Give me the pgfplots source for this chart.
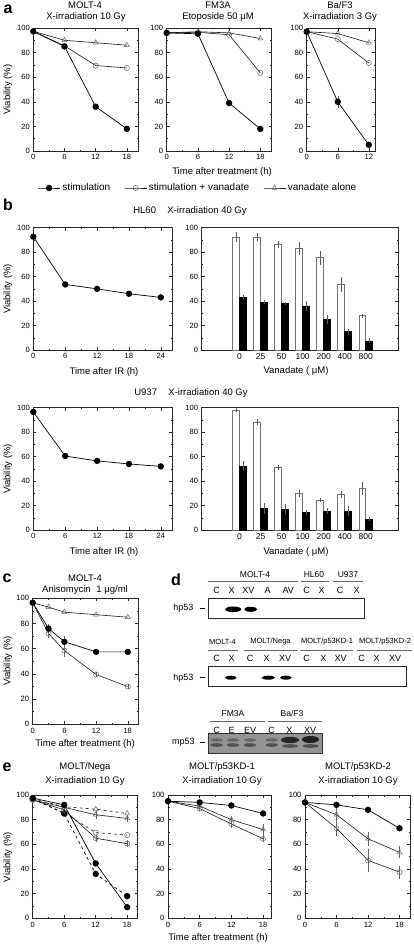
\documentclass[border=0pt]{standalone}
\usepackage{fontspec}
\setmainfont{Liberation Sans}
\usepackage{pgfplots}
\pgfplotsset{compat=1.18}
\newcommand{\tf}{\fontsize{7.6}{8.5}\selectfont}
\newcommand{\lf}{\fontsize{9.5}{11}\selectfont}
\newcommand{\hf}{\fontsize{8.5}{10}\selectfont}
\newcommand{\hsf}{\fontsize{7.5}{9}\selectfont}
\newcommand{\nf}{\fontsize{9}{10.5}\selectfont}
\pgfplotsset{
 base/.style={scale only axis, clip=false, anchor=south west,
   ymin=0, ymax=100, ytick={0,20,40,60,80,100}, minor y tick num=1,
   tick align=inside, major tick length=3pt, minor tick length=1.5pt,
   axis line style={black!85, line width=0.6pt},
   tick style={black!85, line width=0.45pt},
   ticklabel style={font=\tf},
   /pgf/number format/assume math mode=true},
 linep/.style={base, minor x tick num=1, xtick={0,6,12,18}},
 barp/.style={base, xmin=-1.8, xmax=7.55, xtick={0,1,2,3,4,5,6},
   xticklabels={0,25,50,100,200,400,800}, xtick style={draw=none},
   xticklabel style={font=\fontsize{8.5}{10}\selectfont}},
 fil/.style={black, line width=0.7pt, mark=*, mark size=2.8pt, mark options={solid, fill=black}},
 opn/.style={black!90, line width=0.6pt, mark=o, mark size=2.6pt, mark options={solid, draw=black!60, line width=0.5pt}},
 tri/.style={black!90, line width=0.6pt, mark=triangle, mark size=2.9pt, mark options={solid, draw=black!60, line width=0.5pt}},
 eb/.style={error bars/.cd, y dir=both, y explicit, error bar style={draw=black!60, line width=0.4pt, solid}, error mark options={draw=black!60, mark size=1.6pt, line width=0.4pt}},
 ebar/.style={draw=none, mark=none, forget plot, error bars/.cd, y dir=both, y explicit, error bar style={draw=black!65, line width=0.45pt, solid}, error mark options={draw=black!65, mark size=1.5pt, line width=0.45pt}},
 wbar/.style={ybar, bar width=0.33, bar shift=-0.165, fill=white, draw=black!55, line width=0.5pt, mark=none},
 bbar/.style={ybar, bar width=0.33, bar shift=0.165, fill=black, draw=black, line width=0.5pt, mark=none},
}
\begin{document}
\begin{tikzpicture}
\path[use as bounding box] (0pt,0pt) rectangle (413pt,-947pt);

% ---------------- panel a ----------------
\begin{axis}[linep, at={(33.3pt,-151pt)}, width=105pt, height=123pt, xmin=0, xmax=20.2]
\addplot[opn] coordinates {(0,97.3) (6,85.5) (12,69.5) (18,67.5)};
\addplot[tri] coordinates {(0,97.3) (6,90) (12,88) (18,86)};
\addplot[fil] coordinates {(0,97.3) (6,85) (12,36) (18,18)};
\end{axis}
\begin{axis}[linep, at={(33.3pt,-151pt)}, width=105pt, height=123pt, xmin=0, xmax=20.2, hide axis,
  legend style={at={(axis description cs:1.5686,-0.3008)}, anchor=center, draw=none, fill=none,
    legend columns=3, font=\fontsize{10}{12}\selectfont,
    /tikz/every even column/.append style={column sep=12pt}},
  legend image code/.code={\draw[mark repeat=2,mark phase=2,#1] plot coordinates {(0pt,0pt)(11pt,0pt)(22pt,0pt)};}]
\addlegendimage{fil}
\addlegendentry{stimulation}
\addlegendimage{opn}
\addlegendentry{stimulation + vanadate}
\addlegendimage{tri}
\addlegendentry{vanadate alone}
\end{axis}
\begin{axis}[linep, at={(166.7pt,-151pt)}, width=105pt, height=123pt, xmin=0, xmax=20.2]
\addplot[tri] coordinates {(0,96) (6,97) (12,96) (18,91.5)};
\addplot[opn] coordinates {(0,96) (6,96.5) (12,94.5) (18,63.5)};
\addplot[fil] coordinates {(0,96) (6,95.3) (12,39) (18,18)};
\end{axis}
\begin{axis}[linep, at={(306.7pt,-151pt)}, width=68.3pt, height=123pt, xmin=0, xmax=13.2, xtick={0,6,12}]
\addplot[tri] coordinates {(0,97) (6,95.5) (12,88)};
\addplot[opn] coordinates {(0,97) (6,91) (12,71.5)};
\addplot[fil, eb] coordinates {(0,97) +- (0,0) (6,40) +- (0,3.5) (12,5) +- (0,0.5)};
\end{axis}

% ---------------- panel b ----------------
\begin{axis}[linep, at={(33.3pt,-350pt)}, width=138.7pt, height=122.3pt, xmin=0, xmax=26.1, xtick={0,6,12,18,24}]
\addplot[fil] coordinates {(0,92.7) (6,53.6) (12,50) (18,46) (24,43)};
\end{axis}
\begin{axis}[barp, at={(201.7pt,-350pt)}, width=196.6pt, height=122.3pt]
\addplot[wbar] coordinates {(0,92.6) (1,92.6) (2,86.4) (3,83.1) (4,75.5) (5,53.7) (6,28.1)};
\addplot[bbar] coordinates {(0,42.8) (1,39) (2,38.1) (3,36) (4,25.1) (5,15) (6,7.4)};
\addplot[ebar] coordinates {(-0.165,92.6) +- (0,2.7) (0.835,92.6) +- (0,2) (1.835,86.4) +- (0,1.5) (2.835,83.1) +- (0,3.8) (3.835,75.5) +- (0,4.5) (4.835,53.7) +- (0,4.8) (5.835,28.1) +- (0,0.5)};
\addplot[ebar] coordinates {(0.165,42.8) +- (0,0.8) (1.165,39) +- (0,0.3) (2.165,38.1) +- (0,0.3) (3.165,36) +- (0,3) (4.165,25.1) +- (0,2.6) (5.165,15) +- (0,1.2) (6.165,7.4) +- (0,0.8)};
\end{axis}
\begin{axis}[linep, at={(33.3pt,-530pt)}, width=138.7pt, height=122.3pt, xmin=0, xmax=26.1, xtick={0,6,12,18,24}]
\addplot[fil] coordinates {(0,96.5) (6,60.5) (12,56.5) (18,54) (24,52)};
\end{axis}
\begin{axis}[barp, at={(201.7pt,-530pt)}, width=196.6pt, height=122.3pt]
\addplot[wbar] coordinates {(0,98.1) (1,88) (2,51.2) (3,30) (4,24.5) (5,29.2) (6,34.1)};
\addplot[bbar] coordinates {(0,52.3) (1,17.7) (2,16.9) (3,14.2) (4,15.5) (5,15.5) (6,8.7)};
\addplot[ebar] coordinates {(-0.165,98.1) +- (0,0.3) (0.835,88) +- (0,1.2) (1.835,51.2) +- (0,1) (2.835,30) +- (0,1.5) (3.835,24.5) +- (0,0.3) (4.835,29.2) +- (0,1.5) (5.835,34.1) +- (0,4)};
\addplot[ebar] coordinates {(0.165,52.3) +- (0,3) (1.165,17.7) +- (0,3) (2.165,16.9) +- (0,3) (3.165,14.2) +- (0,0.8) (4.165,15.5) +- (0,1) (5.165,15.5) +- (0,3) (6.165,8.7) +- (0,0.5)};
\end{axis}

% ---------------- panel c ----------------
\begin{axis}[linep, at={(32.7pt,-724.3pt)}, width=105.6pt, height=126pt, xmin=0, xmax=20]
\addplot[tri] coordinates {(0,96.5) (3,93) (6,89) (12,87) (18,85)};
\addplot[opn, eb] coordinates {(0,96.5) +- (0,0) (3,72) +- (0,2) (6,58.5) +- (0,3.5) (12,39.5) +- (0,1) (18,30) +- (0,1)};
\addplot[fil, eb] coordinates {(0,96.5) +- (0,0) (3,76) +- (0,2) (6,65.5) +- (0,3) (12,57.5) +- (0,1) (18,57.5) +- (0,1)};
\end{axis}

% ---------------- panel e ----------------
\begin{axis}[linep, at={(32.7pt,-918.3pt)}, width=105pt, height=123.3pt, xmin=0, xmax=20]
\addplot[tri, dashed] coordinates {(0,97) (6,90.5) (12,88.5) (18,85)};
\addplot[opn, dashed] coordinates {(0,97) (6,85.5) (12,69.5) (18,67.5)};
\addplot[fil, dashed] coordinates {(0,97) (6,85) (12,36) (18,18)};
\addplot[tri, eb] coordinates {(0,96) +- (0,0) (6,90) +- (0,1) (12,84) +- (0,2) (18,81) +- (0,1.5)};
\addplot[opn, eb] coordinates {(0,96) +- (0,0) (6,88) +- (0,1) (12,65) +- (0,1.5) (18,60.5) +- (0,1.5)};
\addplot[fil] coordinates {(0,97.5) (6,92) (12,44.5) (18,9)};
\end{axis}
\begin{axis}[linep, at={(168pt,-918.3pt)}, width=103pt, height=123.3pt, xmin=0, xmax=19.5]
\addplot[tri, eb] coordinates {(0,95) +- (0,0) (6,91) +- (0,1) (12,80) +- (0,1.5) (18,72) +- (0,3.5)};
\addplot[opn, eb] coordinates {(0,95) +- (0,0) (6,89) +- (0,1) (12,76.5) +- (0,2) (18,64.5) +- (0,1.5)};
\addplot[fil] coordinates {(0,95) (6,94) (12,91.5) (18,85)};
\end{axis}
\begin{axis}[linep, at={(305pt,-918.3pt)}, width=105pt, height=123.3pt, xmin=0, xmax=20]
\addplot[tri, eb] coordinates {(0,94) +- (0,0) (6,84) +- (0,4) (12,64.5) +- (0,4.5) (18,53.5) +- (0,3.5)};
\addplot[opn, eb] coordinates {(0,94) +- (0,0) (6,73) +- (0,5) (12,47) +- (0,8) (18,37.5) +- (0,4)};
\addplot[fil] coordinates {(0,94) (6,92) (12,88) (18,73)};
\end{axis}

% ---------------- texts and blots ----------------
\begin{scope}[x=1pt, y=-1pt]
% panel letters
\node[font=\fontsize{16}{18}\selectfont\bfseries] at (8,9) {a};
\node[font=\fontsize{16}{18}\selectfont\bfseries] at (8,205) {b};
\node[font=\fontsize{16}{18}\selectfont\bfseries] at (7,578) {c};
\node[font=\fontsize{16}{18}\selectfont\bfseries] at (176,580) {d};
\node[font=\fontsize{16}{18}\selectfont\bfseries] at (7,767) {e};
% panel a
\node[font=\lf] at (85,5) {MOLT-4};
\node[font=\lf] at (86,17) {X-irradiation 10 Gy};
\node[font=\lf] at (218,5) {FM3A};
\node[font=\lf] at (218,17) {Etoposide 50 μM};
\node[font=\lf] at (340,5) {Ba/F3};
\node[font=\lf] at (340,17) {X-irradiation 3 Gy};
\node[font=\lf] at (222,172) {Time after treatment (h)};
\node[font=\lf, rotate=90] at (8,89.5) {Viability (\%)};
% panel b
\node[font=\lf] at (190,211) {HL60\hspace{1.2em}X-irradiation 40 Gy};
\node[font=\lf] at (104,372) {Time after IR (h)};
\node[font=\lf] at (296,371) {Vanadate ( μM)};
\node[font=\lf, rotate=90] at (8,289) {Viability (\%)};
\node[font=\lf] at (191,393) {U937\hspace{1.2em}X-irradiation 40 Gy};
\node[font=\lf] at (104,552) {Time after IR (h)};
\node[font=\lf] at (296,552) {Vanadate ( μM)};
\node[font=\lf, rotate=90] at (8,469) {Viability (\%)};
% panel c
\node[font=\lf] at (85,578) {MOLT-4};
\node[font=\lf] at (85,590) {Anisomycin\hspace{0.6em}1 μg/ml};
\node[font=\lf, rotate=90] at (8,661) {Viability (\%)};
\node[font=\lf] at (85,744) {Time after treatment (h)};
% panel e
\node[font=\lf] at (85,767) {MOLT/Nega};
\node[font=\lf] at (85,781) {X-irradiation 10 Gy};
\node[font=\lf] at (222,767) {MOLT/p53KD-1};
\node[font=\lf] at (222,781) {X-irradiation 10 Gy};
\node[font=\lf] at (358,767) {MOLT/p53KD-2};
\node[font=\lf] at (358,781) {X-irradiation 10 Gy};
\node[font=\lf, rotate=90] at (8,857) {Viability (\%)};
\node[font=\lf] at (218,938) {Time after treatment (h)};

% panel d, row 1
\node[font=\hf] at (255,575) {MOLT-4};
\node[font=\hf] at (314,575) {HL60};
\node[font=\hf] at (348,575) {U937};
\draw[black!60, line width=0.6pt] (208.3,581.7) -- (298.3,581.7);
\draw[black!60, line width=0.6pt] (301,581.7) -- (329.3,581.7);
\draw[black!60, line width=0.6pt] (333.3,581.7) -- (363.3,581.7);
\foreach \xx/\ll in {216.7/C, 231.7/X, 248.3/XV, 267.7/A, 288.3/AV, 306.7/C, 321.7/X, 340/C, 356.7/X}
  \node[font=\nf] at (\xx,590) {\ll};
\draw[black!85, line width=0.8pt] (208.3,598.3) rectangle (364,618.3);
\node[font=\nf] at (183.3,608.3) {hp53};
\draw[black, line width=0.5pt] (199.5,608.3) -- (205,608.3);
\fill[black] (233.3,609.3) ellipse (8 and 2.8);
\fill[black] (250.7,609.3) ellipse (6.5 and 2.5);
% panel d, row 2
\node[font=\hsf] at (222.5,641.7) {MOLT-4};
\node[font=\hsf] at (270.5,641.7) {MOLT/Nega};
\node[font=\hsf] at (327,641.7) {MOLT/p53KD-1};
\node[font=\hsf] at (385,641.7) {MOLT/p53KD-2};
\draw[black!60, line width=0.6pt] (208.3,650) -- (238.3,650);
\draw[black!60, line width=0.6pt] (244,650) -- (298.3,650);
\draw[black!60, line width=0.6pt] (300,650) -- (352.7,650);
\draw[black!60, line width=0.6pt] (356.7,650) -- (411.7,650);
\foreach \xx/\ll in {216.7/C, 231.7/X, 250/C, 266.7/X, 285/XV, 306.7/C, 323.3/X, 340.7/XV, 361.7/C, 376.7/X, 395/XV}
  \node[font=\nf] at (\xx,658.3) {\ll};
\draw[black!85, line width=0.8pt] (208.3,666.7) rectangle (406.7,686.7);
\node[font=\nf] at (183.3,677.7) {hp53};
\draw[black, line width=0.5pt] (199.5,677.7) -- (205,677.7);
\fill[black] (230.8,677.7) ellipse (5.8 and 2);
\fill[black] (268.3,677.7) ellipse (6.7 and 2);
\fill[black] (285.8,677.7) ellipse (5.8 and 2);
% panel d, row 3
\node[font=\hf] at (233,713.3) {FM3A};
\node[font=\hf] at (292,713.3) {Ba/F3};
\draw[black!60, line width=0.6pt] (210,721) -- (265,721);
\draw[black!60, line width=0.6pt] (268.3,721) -- (321.7,721);
\foreach \xx/\ll in {216.7/C, 231.7/E, 250/EV, 271.7/C, 289.3/X, 310/XV}
  \node[font=\nf] at (\xx,730.7) {\ll};
\fill[black!42] (208.3,733.3) rectangle (322.7,753.3);
\foreach \xx in {216.7, 233, 250, 271.7}{
  \fill[black!60] (\xx,740) ellipse (6.5 and 1.6);
  \fill[black!68] (\xx,745) ellipse (6.5 and 1.8);
}
\fill[black!85] (290,740) ellipse (9 and 3.2);
\fill[black!68] (290,746) ellipse (8 and 1.8);
\fill[black!88] (310.5,739.5) ellipse (8.5 and 3.5);
\fill[black!70] (310.5,746) ellipse (8 and 1.8);
\draw[black!80, line width=0.8pt] (208.3,733.3) rectangle (322.7,753.3);
\node[font=\nf] at (183.3,742) {mp53};
\draw[black, line width=0.5pt] (199.5,742) -- (205,742);
\end{scope}
\end{tikzpicture}
\end{document}
